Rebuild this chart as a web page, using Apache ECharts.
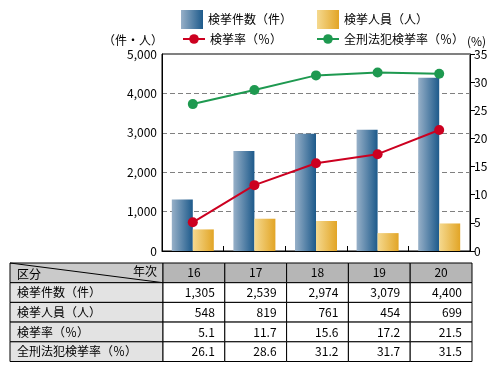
<!DOCTYPE html>
<html><head><meta charset="utf-8">
<script src="https://cdn.jsdelivr.net/npm/echarts@6/dist/echarts.min.js"></script>
<style>html,body{margin:0;padding:0;background:#fff}#c{width:502px;height:371px}</style>
</head><body><div id="c"></div>
<script>
const years = ['16', '17', '18', '19', '20'];
const cases = [1305, 2539, 2974, 3079, 4400];
const persons = [548, 819, 761, 454, 699];
const rate = [5.1, 11.7, 15.6, 17.2, 21.5];
const allRate = [26.1, 28.6, 31.2, 31.7, 31.5];
const leftTicks = [0, 1000, 2000, 3000, 4000, 5000];
const rightTicks = [0, 5, 10, 15, 20, 25, 30, 35];
const seriesNames = ['検挙件数（件）', '検挙人員（人）', '検挙率（％）', '全刑法犯検挙率（％）'];
const headerCorner = ['区分', '年次'];

const FONT = '"Noto Sans CJK JP", "Noto Sans", sans-serif';
const blueGrad = new echarts.graphic.LinearGradient(0, 0, 1, 0, [{offset: 0, color: '#97b0c8'}, {offset: 1, color: '#1d5a8b'}]);
const orangeGrad = new echarts.graphic.LinearGradient(0, 0, 1, 0, [{offset: 0, color: '#f5d98f'}, {offset: 1, color: '#e2a526'}]);
const RED = '#cc0020', GREEN = '#1e9950';

const chart = echarts.init(document.getElementById('c'), null, {renderer: 'canvas'});

// table graphic
const fmtCount = v => v.toLocaleString('en-US');
const fmtRate = v => v.toFixed(1);
const rows = [
  {name: seriesNames[0], vals: cases.map(fmtCount)},
  {name: seriesNames[1], vals: persons.map(fmtCount)},
  {name: seriesNames[2], vals: rate.map(fmtRate)},
  {name: seriesNames[3], vals: allRate.map(fmtRate)}
];
const tX0 = 10, tX1 = 163, colW = 61.8, tY0 = 263, rowH = 19.7;
const g = [];
// header
g.push({type: 'rect', shape: {x: tX0, y: tY0, width: tX1 - tX0, height: rowH}, style: {fill: '#cacaca', stroke: '#000', lineWidth: 1}});
g.push({type: 'line', shape: {x1: tX0, y1: tY0, x2: tX1, y2: tY0 + rowH}, style: {stroke: '#000', lineWidth: 1}});
g.push({type: 'text', x: tX0 + 7, y: tY0 + rowH - 2, style: {text: headerCorner[0], font: '12px ' + FONT, fill: '#000', textVerticalAlign: 'bottom', verticalAlign: 'bottom'}});
g.push({type: 'text', x: tX1 - 6, y: tY0 + 2, style: {text: headerCorner[1], font: '12px ' + FONT, fill: '#000', align: 'right', textAlign: 'right'}});
years.forEach((y, i) => {
  const x = tX1 + i * colW;
  g.push({type: 'rect', shape: {x: x, y: tY0, width: colW, height: rowH}, style: {fill: '#b6b6b6', stroke: '#000', lineWidth: 1}});
  g.push({type: 'text', x: x + colW / 2, y: tY0 + rowH / 2, style: {text: y, font: '12px ' + FONT, fill: '#000', align: 'center', verticalAlign: 'middle'}});
});
rows.forEach((r, ri) => {
  const y = tY0 + rowH * (ri + 1);
  g.push({type: 'rect', shape: {x: tX0, y: y, width: tX1 - tX0, height: rowH}, style: {fill: '#e3e3e3', stroke: '#000', lineWidth: 1}});
  g.push({type: 'text', x: tX0 + 7, y: y + rowH / 2, style: {text: r.name, font: '12px ' + FONT, fill: '#000', verticalAlign: 'middle'}});
  r.vals.forEach((v, i) => {
    const x = tX1 + i * colW;
    g.push({type: 'rect', shape: {x: x, y: y, width: colW, height: rowH}, style: {fill: '#fff', stroke: '#000', lineWidth: 1}});
    g.push({type: 'text', x: x + colW - 10, y: y + rowH / 2, style: {text: v, font: '12px ' + FONT, fill: '#000', align: 'right', verticalAlign: 'middle'}});
  });
});
// axis names
g.push({type: 'text', x: 163, y: 40, style: {text: '（件・人）', font: '12px ' + FONT, fill: '#000', align: 'right', verticalAlign: 'middle'}});
g.push({type: 'text', x: 467, y: 41, style: {text: '(%)', font: '12px ' + FONT, fill: '#000', verticalAlign: 'middle'}});

const legendCommon = {orient: 'horizontal', padding: 0, textStyle: {fontFamily: FONT, fontSize: 12, color: '#000'}, itemGap: 4};

chart.setOption({
  animation: false,
  textStyle: {fontFamily: FONT},
  legend: [
    Object.assign({}, legendCommon, {data: [{name: seriesNames[0], icon: 'rect'}], left: 181, top: 10, itemWidth: 22, itemHeight: 19}),
    Object.assign({}, legendCommon, {data: [{name: seriesNames[1], icon: 'rect'}], left: 317, top: 10, itemWidth: 22, itemHeight: 19}),
    Object.assign({}, legendCommon, {data: [seriesNames[2]], left: 182, top: 33, itemWidth: 22, itemHeight: 12}),
    Object.assign({}, legendCommon, {data: [seriesNames[3]], left: 316, top: 33, itemWidth: 22, itemHeight: 12})
  ],
  grid: {left: 162, right: 32, top: 54, bottom: 120, show: true, borderColor: '#000', borderWidth: 1},
  xAxis: {
    type: 'category', data: years, boundaryGap: true,
    axisLine: {lineStyle: {color: '#000', width: 1}},
    axisTick: {show: true, inside: true, length: 5, lineStyle: {color: '#000'}},
    axisLabel: {show: false}
  },
  yAxis: [
    {type: 'value', min: leftTicks[0], max: leftTicks[leftTicks.length - 1], interval: leftTicks[1] - leftTicks[0],
     axisLine: {show: true, lineStyle: {color: '#000'}}, axisTick: {show: false},
     axisLabel: {color: '#000', fontSize: 12, margin: 5, formatter: v => v.toLocaleString('en-US')},
     splitLine: {show: true, lineStyle: {color: '#808080', type: [5, 3], width: 1}}},
    {type: 'value', min: rightTicks[0], max: rightTicks[rightTicks.length - 1], interval: rightTicks[1] - rightTicks[0],
     position: 'right',
     axisLine: {show: true, lineStyle: {color: '#000'}}, axisTick: {show: true, length: 5, lineStyle: {color: '#000'}},
     axisLabel: {color: '#000', fontSize: 12, margin: 4},
     splitLine: {show: false}}
  ],
  series: [
    {name: seriesNames[0], type: 'bar', data: cases, barWidth: 21, barGap: '0%', itemStyle: {color: blueGrad}},
    {name: seriesNames[1], type: 'bar', data: persons, barWidth: 21, barGap: '0%', itemStyle: {color: orangeGrad}},
    {name: seriesNames[2], type: 'line', yAxisIndex: 1, data: rate, symbol: 'circle', symbolSize: 10,
     lineStyle: {color: RED, width: 2}, itemStyle: {color: RED}},
    {name: seriesNames[3], type: 'line', yAxisIndex: 1, data: allRate, symbol: 'circle', symbolSize: 10,
     lineStyle: {color: GREEN, width: 2}, itemStyle: {color: GREEN}}
  ],
  graphic: g
});
</script></body></html>
